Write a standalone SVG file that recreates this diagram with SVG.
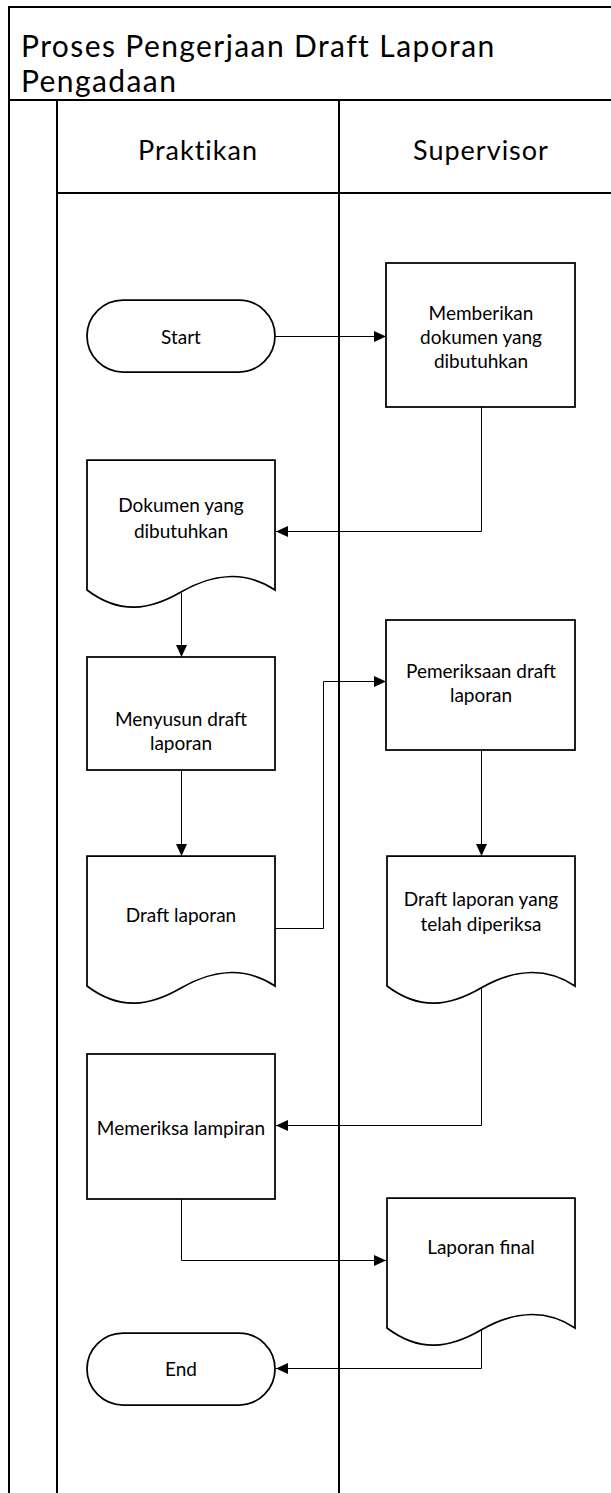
<svg xmlns="http://www.w3.org/2000/svg" width="611" height="1493" viewBox="0 0 611 1493">
  <defs>
    <marker id="arrow" markerWidth="12" markerHeight="12" refX="12" refY="6" orient="auto" markerUnits="userSpaceOnUse">
      <path d="M0,0.5 L12,6 L0,11.5 z" fill="#000"/>
    </marker>
    <path id="docShape" d="M0,0 H188 V130 C158,110 125,114 94,132 C63,150 33,155 0,130 Z"/>
  </defs>
  <style>
    .frame { fill: none; stroke: #000; stroke-width: 2; }
    .shape { fill: #fff; stroke: #000; stroke-width: 1.75; }
    .conn { fill: none; stroke: #000; stroke-width: 1; }
    .title { font-family: Lato, "Liberation Sans", sans-serif; font-size: 30px; letter-spacing: 1.4px; fill: #000; }
    .lane { font-family: Lato, "Liberation Sans", sans-serif; font-size: 27px; letter-spacing: 1px; fill: #000; text-anchor: middle; }
    .label { font-family: Lato, "Liberation Sans", sans-serif; font-size: 19px; fill: #000; text-anchor: middle; dominant-baseline: central; }
  </style>
  <rect width="611" height="1493" fill="#fff"/>

  <!-- pool and lanes -->
  <g id="pool">
    <path class="frame" d="M9,1495 V7 H613"/>
    <path class="frame" d="M9,100 H613"/>
    <path class="frame" d="M57,100 V1495"/>
    <path class="frame" d="M339,100 V1495"/>
    <path class="frame" d="M57,193 H613"/>
    <text class="title" x="21" y="57">Proses Pengerjaan Draft Laporan</text>
    <text class="title" x="21" y="92">Pengadaan</text>
    <text class="lane" x="198" y="160">Praktikan</text>
    <text class="lane" x="481" y="160">Supervisor</text>
  </g>

  <!-- connectors -->
  <g id="connectors">
    <path class="conn" d="M275,336.5 H386" marker-end="url(#arrow)"/>
    <path class="conn" d="M481.5,407 V531.5 H276" marker-end="url(#arrow)"/>
    <path class="conn" d="M181.5,593 V657" marker-end="url(#arrow)"/>
    <path class="conn" d="M181.5,770 V856" marker-end="url(#arrow)"/>
    <path class="conn" d="M275,928.5 H323.5 V681.5 H386" marker-end="url(#arrow)"/>
    <path class="conn" d="M481.5,750 V856" marker-end="url(#arrow)"/>
    <path class="conn" d="M481.5,987 V1125.5 H276" marker-end="url(#arrow)"/>
    <path class="conn" d="M181.5,1199 V1260.5 H386" marker-end="url(#arrow)"/>
    <path class="conn" d="M481.5,1330 V1368.5 H276" marker-end="url(#arrow)"/>
  </g>

  <!-- nodes -->
  <g id="start">
    <rect class="shape" x="87" y="300" width="188" height="72" rx="36" ry="36"/>
    <text class="label" x="181" y="336">Start</text>
  </g>
  <g id="memberikan-dokumen">
    <rect class="shape" x="386" y="263" width="189" height="144"/>
    <text class="label" x="481" y="312">Memberikan</text>
    <text class="label" x="481" y="336">dokumen yang</text>
    <text class="label" x="481" y="360">dibutuhkan</text>
  </g>
  <g id="dokumen-dibutuhkan">
    <use href="#docShape" class="shape" x="87" y="460"/>
    <text class="label" x="181" y="504">Dokumen yang</text>
    <text class="label" x="181" y="530">dibutuhkan</text>
  </g>
  <g id="menyusun-draft">
    <rect class="shape" x="87" y="657" width="188" height="113"/>
    <text class="label" x="181" y="718">Menyusun draft</text>
    <text class="label" x="181" y="742">laporan</text>
  </g>
  <g id="draft-laporan">
    <use href="#docShape" class="shape" x="87" y="856"/>
    <text class="label" x="181" y="914">Draft laporan</text>
  </g>
  <g id="pemeriksaan-draft">
    <rect class="shape" x="386" y="620" width="189" height="130"/>
    <text class="label" x="481" y="670">Pemeriksaan draft</text>
    <text class="label" x="481" y="694">laporan</text>
  </g>
  <g id="draft-diperiksa">
    <use href="#docShape" class="shape" x="387" y="856"/>
    <text class="label" x="481" y="898">Draft laporan yang</text>
    <text class="label" x="481" y="923">telah diperiksa</text>
  </g>
  <g id="memeriksa-lampiran">
    <rect class="shape" x="87" y="1054" width="188" height="145"/>
    <text class="label" x="181" y="1127">Memeriksa lampiran</text>
  </g>
  <g id="laporan-final">
    <use href="#docShape" class="shape" x="387" y="1198"/>
    <text class="label" x="481" y="1246">Laporan final</text>
  </g>
  <g id="end">
    <rect class="shape" x="87" y="1333" width="188" height="72" rx="36" ry="36"/>
    <text class="label" x="181" y="1368">End</text>
  </g>
</svg>
